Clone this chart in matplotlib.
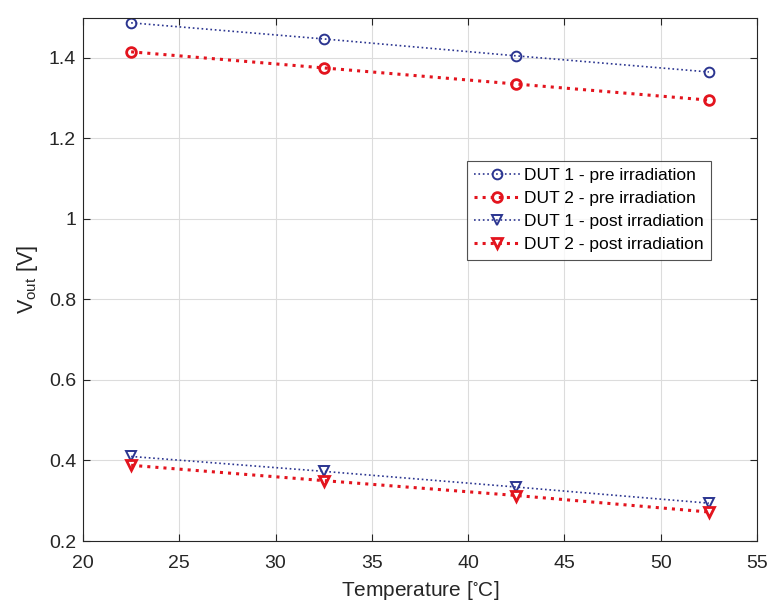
import matplotlib
matplotlib.use("Agg")
import matplotlib.pyplot as plt

plt.rcParams['font.family'] = ['Liberation Sans', 'DejaVu Sans']

temperature = [22.5, 32.5, 42.5, 52.5]
dut1_pre = [1.487, 1.447, 1.405, 1.365]
dut2_pre = [1.415, 1.375, 1.335, 1.295]
dut1_post = [0.410, 0.373, 0.334, 0.294]
dut2_post = [0.388, 0.350, 0.313, 0.272]

blue = '#2B3590'
red = '#E3141E'

fig = plt.figure(figsize=(7.71, 6.06), dpi=100)
ax = fig.add_axes([83/771, 1-541/606, (757-83)/771, (541-17.6)/606])

ax.plot(temperature, dut1_pre, ':', color=blue, lw=1.2, marker='o', mfc='none',
        mec=blue, ms=7, mew=1.4, label='DUT 1 - pre irradiation')
ax.plot(temperature, dut2_pre, ':', color=red, lw=2.2, marker='o', mfc='none',
        mec=red, ms=7, mew=2, label='DUT 2 - pre irradiation')
ax.plot(temperature, dut1_post, ':', color=blue, lw=1.2, marker='v', mfc='none',
        mec=blue, ms=7, mew=1.4, label='DUT 1 - post irradiation')
ax.plot(temperature, dut2_post, ':', color=red, lw=2.2, marker='v', mfc='none',
        mec=red, ms=7, mew=2, label='DUT 2 - post irradiation')

ax.set_xlim(20, 55)
ax.set_ylim(0.2, 1.5)
ax.set_xticks(range(20, 56, 5))
ax.set_yticks([0.2, 0.4, 0.6, 0.8, 1.0, 1.2, 1.4])
ax.set_yticklabels(['0.2', '0.4', '0.6', '0.8', '1', '1.2', '1.4'])
ax.grid(True, color='#dcdcdc', lw=0.8)
ax.set_axisbelow(True)
for s in ax.spines.values():
    s.set_color('#262626')
    s.set_linewidth(0.8)
ax.tick_params(direction='in', top=True, right=True, labelsize=14,
               colors='#262626', length=5, width=0.8)
ax.tick_params(axis='x', pad=10)
ax.tick_params(axis='y', pad=5)

ax.set_xlabel('Temperature [$\\mathregular{^{\\circ}}$C]', fontsize=15,
              color='#262626', labelpad=5)
ax.set_ylabel('V$_{\\mathregular{out}}$ [V]', fontsize=15.5, color='#262626',
              labelpad=6)

leg = ax.legend(loc='upper left', bbox_to_anchor=(0.570, 0.726), fontsize=12.5,
                frameon=True, fancybox=False, edgecolor='#262626',
                handlelength=2.6, handletextpad=0.25, borderpad=0.42,
                labelspacing=0.45, borderaxespad=0)
leg.get_frame().set_linewidth(0.8)

fig.savefig('out.png', dpi=100)
